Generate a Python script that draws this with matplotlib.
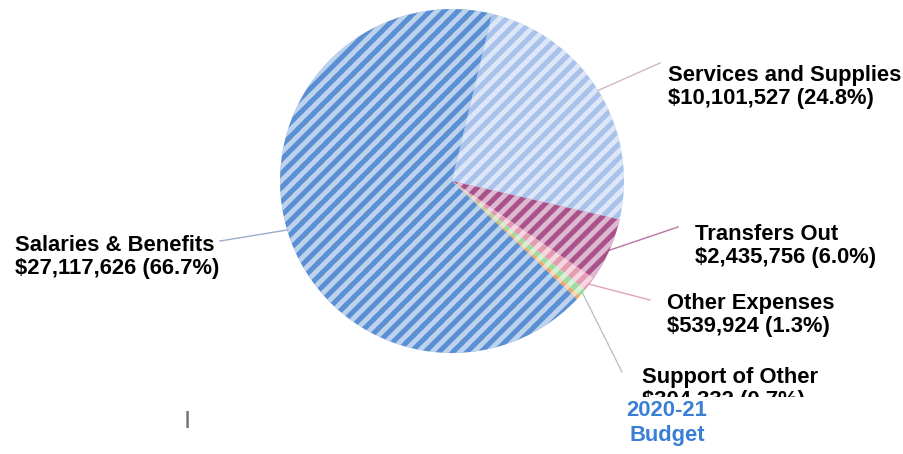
import numpy as np
import matplotlib
matplotlib.use("Agg")
import matplotlib.pyplot as plt
from matplotlib.transforms import Bbox

# dados do orçamento (ordem horária a partir do topo)
categories = ["Services and Supplies", "Transfers Out", "Other Expenses",
              "Support of Other", "", "Salaries & Benefits"]
amounts = [10101527, 2435756, 539924, 304332, 160000, 27117626]
amount_labels = ["$10,101,527 (24.8%)", "$2,435,756 (6.0%)", "$539,924 (1.3%)",
                 "$304,332 (0.7%)", "", "$27,117,626 (66.7%)"]
colors = ["#a9c2ec", "#a9518a", "#e49cb2", "#9fdb9f", "#f0a860", "#5b8fd4"]
line_colors = ["#c9a6bc", "#a9518a", "#d78fa6", "#a8b8a8", None, "#7f9bbf"]

W, H = 903, 454
DPI = 84
plt.rcParams["font.family"] = ["Liberation Sans", "DejaVu Sans"]
plt.rcParams["hatch.linewidth"] = 4.2

fig = plt.figure(figsize=(W / DPI, H / DPI), dpi=DPI)
ax = fig.add_axes([0, 0, 1, 1])

cx, cy, r = 452, H - 181, 172
wedges, _ = ax.pie(amounts, colors=colors, startangle=76.5, counterclock=False,
                   center=(cx, cy), radius=r, frame=True, hatch="//",
                   wedgeprops=dict(edgecolor=(1, 1, 1, 0.6), linewidth=0))
ax.set_xlim(0, W)
ax.set_ylim(0, H)
ax.axis("off")

# posição dos rótulos (pixels, topo = 0): x do texto, centro y, fim da linha
label_pos = {
    "Services and Supplies": (668, 87, (660, 63)),
    "Transfers Out": (695, 246, (678, 227)),
    "Other Expenses": (667, 315, (650, 300)),
    "Support of Other": (642, 389, (622, 372)),
    "Salaries & Benefits": (15, 257, (220, 241)),
}

fs = 22 * 72 / DPI
for w, cat, lab, lc in zip(wedges, categories, amount_labels, line_colors):
    if cat == "":
        continue
    tx, ty, (ex, ey) = label_pos[cat]
    mid = np.deg2rad((w.theta1 + w.theta2) / 2)
    px, py = cx + r * np.cos(mid), cy + r * np.sin(mid)
    ax.plot([px, ex], [py, H - ey], color=lc, lw=1.2, alpha=0.8)
    t = ax.text(tx, H - ty, cat + "\n" + lab, fontsize=fs, fontweight="bold",
                ha="left", va="center", linespacing=1.17, color="black")
    if cat == "Support of Other":
        # o rótulo aparece cortado na referência
        t.set_clip_box(Bbox.from_extents(0, H - 397, W, H))
        t.set_clip_on(True)

ax.text(667, H - 423, "2020-21\nBudget", fontsize=fs, fontweight="bold",
        color="#3a7fd6", ha="center", va="center", linespacing=1.22)
ax.text(187, H - 420, "|", fontsize=fs * 0.85, fontweight="bold",
        color="#707070", ha="center", va="center")

fig.savefig("out.png", dpi=DPI)
